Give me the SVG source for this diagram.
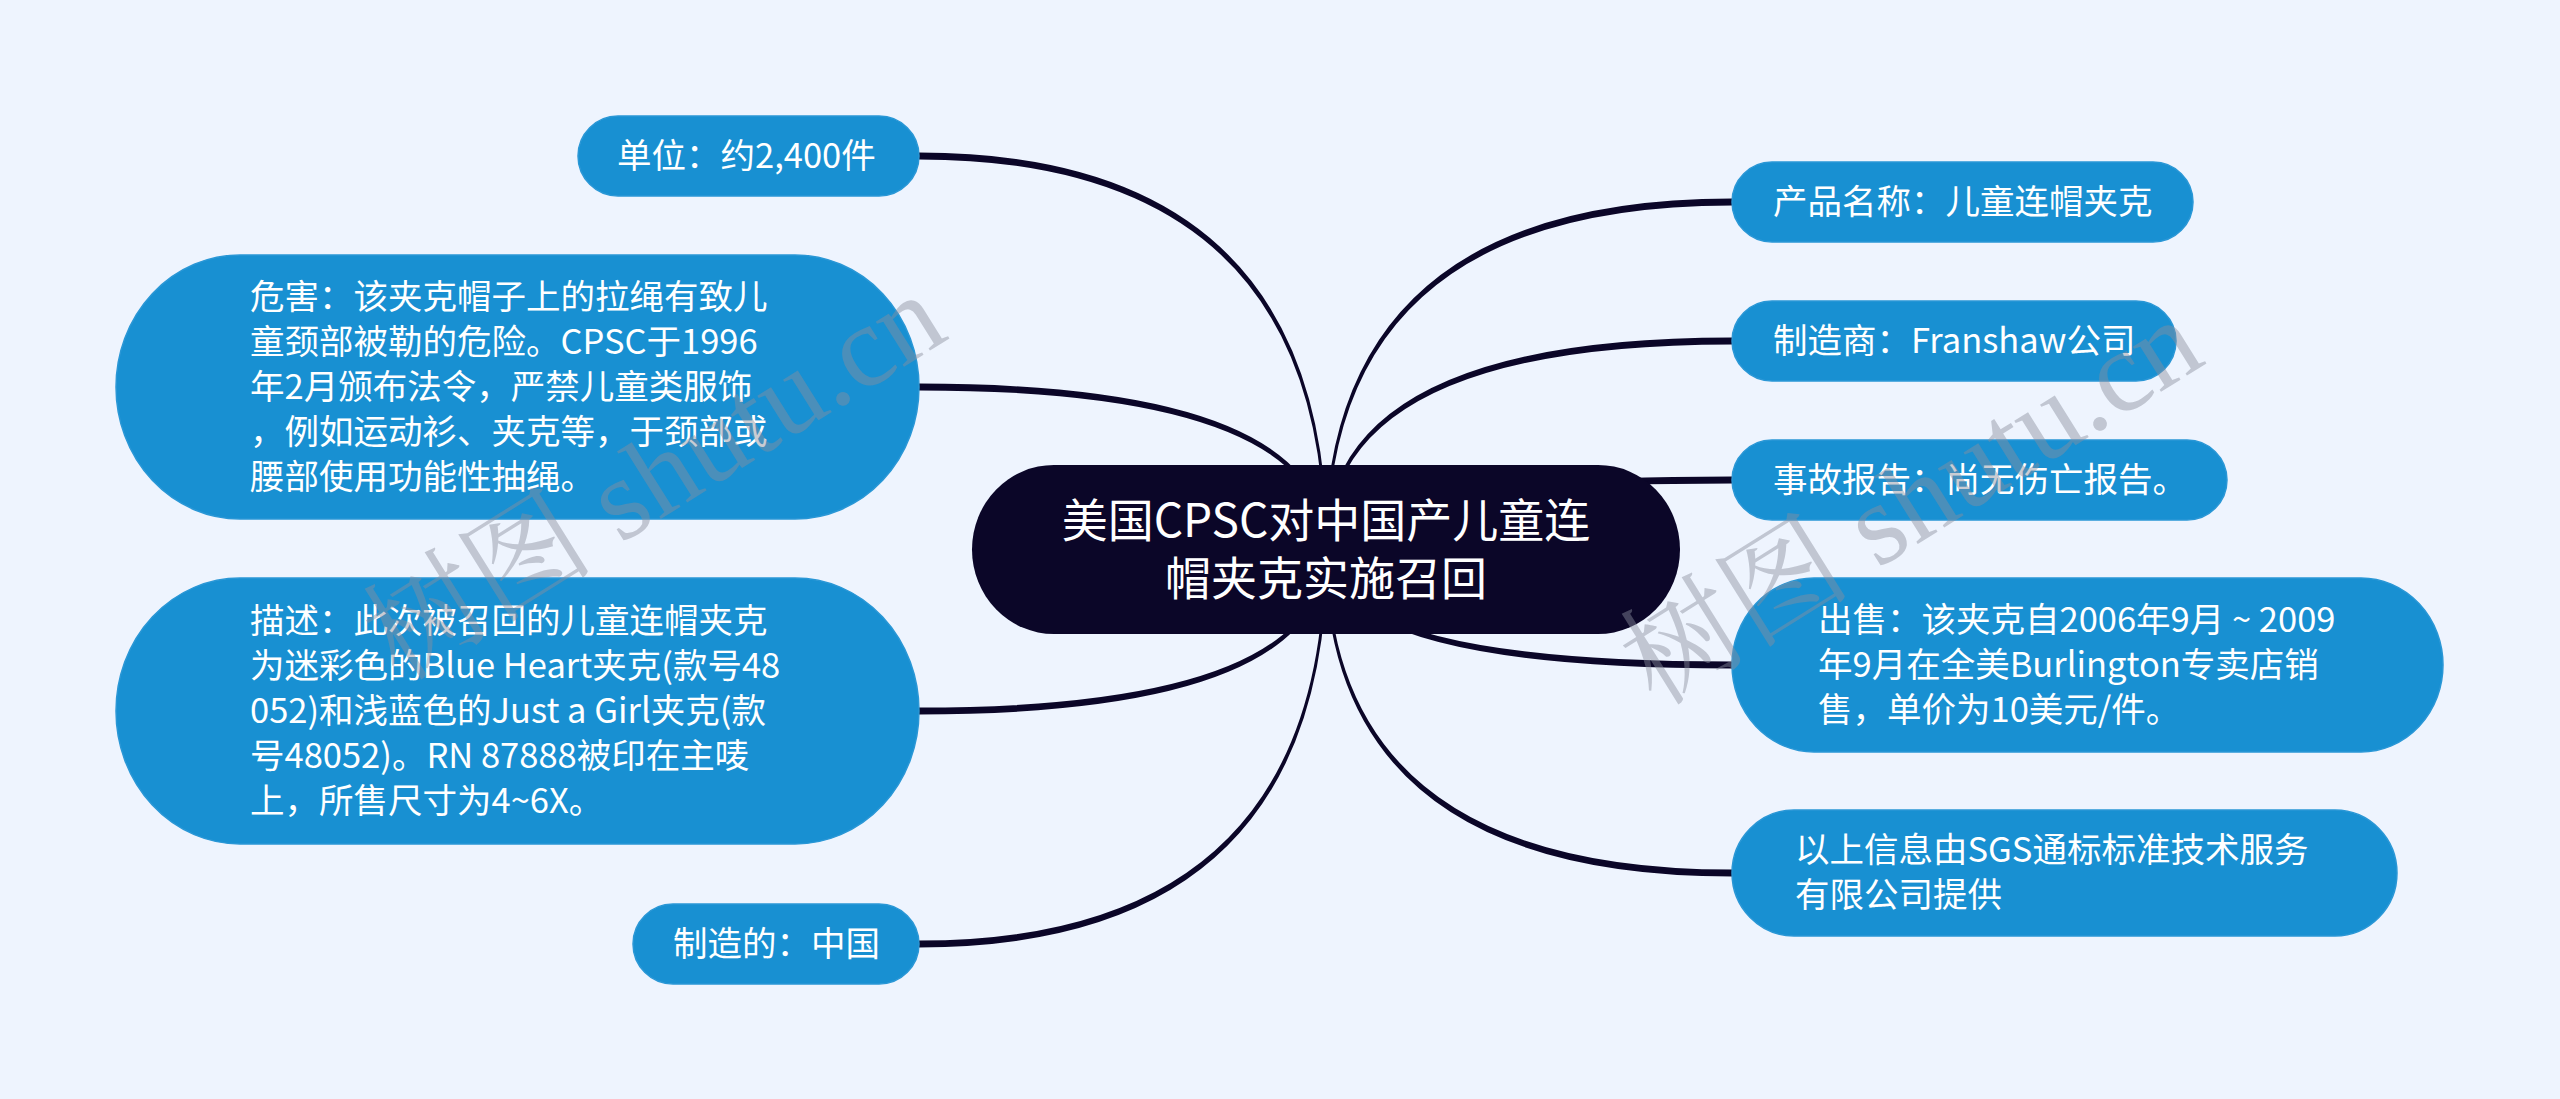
<svg xmlns="http://www.w3.org/2000/svg" width="2560" height="1099" viewBox="0 0 2560 1099">
<style>
.bg{fill:#eef4fe}
.n{fill:#1890d2;stroke:#2a97d6;stroke-width:1.5}
.c{fill:#0b0628}
.t{font-family:"Noto Sans CJK SC","Noto Sans",sans-serif;font-size:34.5px;fill:#ffffff}
.ct{font-family:"Noto Sans CJK SC","Noto Sans",sans-serif;font-size:46px;fill:#ffffff;text-anchor:middle}
.l{fill:#0b0628;stroke:#0b0628;stroke-width:2.8;stroke-linejoin:round}
.wm{font-family:"Liberation Serif","Noto Serif CJK SC","Noto Sans CJK SC",serif;font-size:116px;fill:#8a8f9e;fill-opacity:0.45;text-anchor:middle}
</style>
<rect class="bg" x="0" y="0" width="2560" height="1099"/>
<g id="connectors">
<path class="l" d="M1326,549.5 Q1326,154 919,154 L919,158 Q1326,158 1326,549.5 Z"/>
<path class="l" d="M1326,549.5 Q1326,385 919,385 L919,389 Q1326,389 1326,549.5 Z"/>
<path class="l" d="M1326,549.5 Q1326,709 919,709 L919,713 Q1326,713 1326,549.5 Z"/>
<path class="l" d="M1326,549.5 Q1326,942 919,942 L919,946 Q1326,946 1326,549.5 Z"/>
<path class="l" d="M1326,549.5 Q1326,200 1732,200 L1732,204 Q1326,204 1326,549.5 Z"/>
<path class="l" d="M1326,549.5 Q1326,339 1732,339 L1732,343 Q1326,343 1326,549.5 Z"/>
<path class="l" d="M1326,549.5 Q1326,478 1732,478 L1732,482 Q1326,482 1326,549.5 Z"/>
<path class="l" d="M1326,549.5 Q1326,663 1732,663 L1732,667 Q1326,667 1326,549.5 Z"/>
<path class="l" d="M1326,549.5 Q1326,871 1732,871 L1732,875 Q1326,875 1326,549.5 Z"/>
</g>
<g id="center">
<rect class="c" x="972" y="465" width="708" height="169" rx="82" ry="84.5"/>
<text class="ct" x="1326" y="537">美国CPSC对中国产儿童连</text>
<text class="ct" x="1326" y="595">帽夹克实施召回</text>
</g>
<g id="node-danwei">
<rect class="n" x="578" y="116" width="341" height="80" rx="40" ry="40"/>
<text class="t" x="617" y="168">单位：约2,400件</text>
</g>
<g id="node-weihai">
<rect class="n" x="116" y="255" width="803" height="264" rx="124" ry="132"/>
<text class="t" x="250" y="309">危害：该夹克帽子上的拉绳有致儿</text>
<text class="t" x="250" y="354">童颈部被勒的危险。CPSC于1996</text>
<text class="t" x="250" y="399">年2月颁布法令，严禁儿童类服饰</text>
<text class="t" x="250" y="444">，例如运动衫、夹克等，于颈部或</text>
<text class="t" x="250" y="489">腰部使用功能性抽绳。</text>
</g>
<g id="node-miaoshu">
<rect class="n" x="116" y="578" width="803" height="266" rx="124" ry="133"/>
<text class="t" x="250" y="633">描述：此次被召回的儿童连帽夹克</text>
<text class="t" x="250" y="678">为迷彩色的Blue Heart夹克(款号48</text>
<text class="t" x="250" y="723">052)和浅蓝色的Just a Girl夹克(款</text>
<text class="t" x="250" y="768">号48052)。RN 87888被印在主唛</text>
<text class="t" x="250" y="813">上，所售尺寸为4~6X。</text>
</g>
<g id="node-zhizaode">
<rect class="n" x="633" y="904" width="286" height="80" rx="40" ry="40"/>
<text class="t" x="673" y="956">制造的：中国</text>
</g>
<g id="node-chanpin">
<rect class="n" x="1732" y="162" width="461" height="80" rx="40" ry="40"/>
<text class="t" x="1773" y="214">产品名称：儿童连帽夹克</text>
</g>
<g id="node-zhizaoshang">
<rect class="n" x="1732" y="301" width="444" height="80" rx="40" ry="40"/>
<text class="t" x="1773" y="353">制造商：Franshaw公司</text>
</g>
<g id="node-shigu">
<rect class="n" x="1732" y="440" width="495" height="80" rx="40" ry="40"/>
<text class="t" x="1773" y="492">事故报告：尚无伤亡报告。</text>
</g>
<g id="node-chushou">
<rect class="n" x="1732" y="578" width="711" height="174" rx="82" ry="87"/>
<text class="t" x="1818" y="632">出售：该夹克自2006年9月 ~ 2009</text>
<text class="t" x="1818" y="677">年9月在全美Burlington专卖店销</text>
<text class="t" x="1818" y="722">售，单价为10美元/件。</text>
</g>
<g id="node-yishang">
<rect class="n" x="1732" y="810" width="665" height="126" rx="62" ry="63"/>
<text class="t" x="1795" y="862">以上信息由SGS通标标准技术服务</text>
<text class="t" x="1795" y="907">有限公司提供</text>
</g>
<g id="watermark">
<text class="wm" transform="translate(675,510) rotate(-32)">树图 shutu.cn</text>
<text class="wm" transform="translate(1932,535) rotate(-32)">树图 shutu.cn</text>
</g>
</svg>
